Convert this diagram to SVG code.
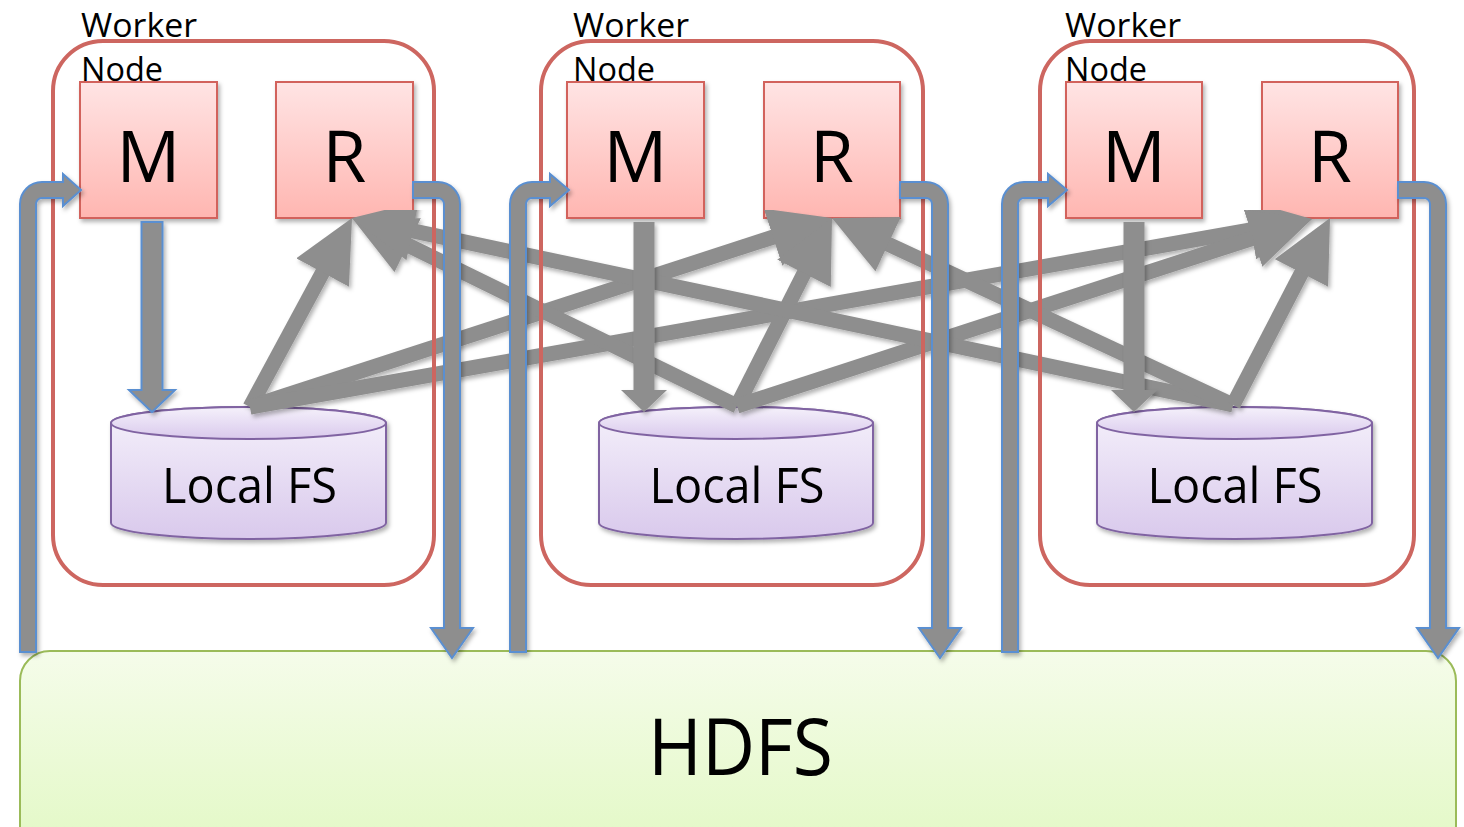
<svg xmlns="http://www.w3.org/2000/svg" width="1464" height="827" viewBox="0 0 1464 827">
  <defs>
    <linearGradient id="gBox" x1="0" y1="0" x2="0" y2="1">
      <stop offset="0" stop-color="#ffe4e4"/>
      <stop offset="1" stop-color="#ffb6b1"/>
    </linearGradient>
    <linearGradient id="gCyl" x1="0" y1="0" x2="0" y2="1">
      <stop offset="0" stop-color="#f5f1fb"/>
      <stop offset="1" stop-color="#d9c9ec"/>
    </linearGradient>
    <linearGradient id="gHdfs" x1="0" y1="0" x2="0" y2="1">
      <stop offset="0" stop-color="#f5fcea"/>
      <stop offset="1" stop-color="#e0f8c0"/>
    </linearGradient>
    <filter id="shadow" x="-10%" y="-10%" width="130%" height="130%">
      <feDropShadow dx="2" dy="3" stdDeviation="2" flood-color="#000" flood-opacity="0.3"/>
    </filter>
    <marker id="head" markerUnits="userSpaceOnUse" markerWidth="62" markerHeight="60" refX="7" refY="30" orient="auto" viewBox="0 0 62 60">
      <path d="M0,0 L62,30 L0,60 Z" fill="#8e8e8e"/>
    </marker>
    <style>
      .worker { fill: none; stroke: #cd6660; stroke-width: 4; }
      .box { fill: url(#gBox); stroke: #d2625c; stroke-width: 2; filter: url(#shadow); }
      .cyl { fill: url(#gCyl); stroke: #8064a2; stroke-width: 2; }
      .lbl { font-family: "Open Sans", "Liberation Sans", sans-serif; fill: #000; }
      .shuffle line { stroke: #8e8e8e; stroke-width: 15; marker-end: url(#head); }
      .flow { fill: #8e8e8e; stroke: #5a8fd1; stroke-width: 2; stroke-linejoin: miter; }
      .plain { fill: #8e8e8e; stroke: none; }
    </style>
  </defs>

  <rect width="1464" height="827" fill="#ffffff"/>

  <!-- HDFS -->
  <g id="hdfs">
    <rect x="20" y="651" width="1436" height="230" rx="30" fill="url(#gHdfs)" stroke="#9bbb59" stroke-width="2"/>
    <text class="lbl" x="740.5" y="775" font-size="78" text-anchor="middle" textLength="185" lengthAdjust="spacingAndGlyphs">HDFS</text>
  </g>

  <!-- Local file systems -->
  <g id="lfs1" filter="url(#shadow)">
    <path class="cyl" d="M111,423 A137.5,16 0 0 1 386,423 L386,523 A137.5,16 0 0 1 111,523 Z"/>
    <ellipse class="cyl" cx="248.5" cy="423" rx="137.5" ry="16"/>
    <text class="lbl" x="249.5" y="503" font-size="49" text-anchor="middle" textLength="175" lengthAdjust="spacingAndGlyphs">Local FS</text>
  </g>
  <g id="lfs2" filter="url(#shadow)">
    <path class="cyl" d="M599,423 A137,16 0 0 1 873,423 L873,523 A137,16 0 0 1 599,523 Z"/>
    <ellipse class="cyl" cx="736" cy="423" rx="137" ry="16"/>
    <text class="lbl" x="737" y="503" font-size="49" text-anchor="middle" textLength="175" lengthAdjust="spacingAndGlyphs">Local FS</text>
  </g>
  <g id="lfs3" filter="url(#shadow)">
    <path class="cyl" d="M1097,423 A137.5,16 0 0 1 1372,423 L1372,523 A137.5,16 0 0 1 1097,523 Z"/>
    <ellipse class="cyl" cx="1234.5" cy="423" rx="137.5" ry="16"/>
    <text class="lbl" x="1235" y="503" font-size="49" text-anchor="middle" textLength="175" lengthAdjust="spacingAndGlyphs">Local FS</text>
  </g>

  <!-- Map and reduce tasks -->
  <g id="m1"><rect class="box" x="80" y="82" width="137" height="136"/><text class="lbl" x="148.5" y="182" font-size="71" text-anchor="middle">M</text></g>
  <g id="r1"><rect class="box" x="276" y="82" width="137" height="136"/><text class="lbl" x="344.5" y="182" font-size="71" text-anchor="middle">R</text></g>
  <g id="m2"><rect class="box" x="567" y="82" width="137" height="136"/><text class="lbl" x="635.5" y="182" font-size="71" text-anchor="middle">M</text></g>
  <g id="r2"><rect class="box" x="764" y="82" width="136" height="136"/><text class="lbl" x="832" y="182" font-size="71" text-anchor="middle">R</text></g>
  <g id="m3"><rect class="box" x="1066" y="82" width="136" height="136"/><text class="lbl" x="1134" y="182" font-size="71" text-anchor="middle">M</text></g>
  <g id="r3"><rect class="box" x="1262" y="82" width="136" height="136"/><text class="lbl" x="1330" y="182" font-size="71" text-anchor="middle">R</text></g>

  <!-- Connectors -->
  <g id="connectors">
    <!-- shuffle: every local FS feeds every reducer -->
    <g class="shuffle" filter="url(#shadow)">
      <line x1="250" y1="407" x2="325.9" y2="266.4"/>
      <line x1="250" y1="407" x2="779.7" y2="235.0"/>
      <line x1="250" y1="407" x2="1257.8" y2="228.6"/>
      <line x1="737" y1="406" x2="401.4" y2="242.1"/>
      <line x1="737" y1="406" x2="807.2" y2="267.1"/>
      <line x1="737" y1="406" x2="1259.7" y2="236.0"/>
      <line x1="1233" y1="405" x2="405.8" y2="229.4"/>
      <line x1="1233" y1="405" x2="881.8" y2="241.2"/>
      <line x1="1233" y1="405" x2="1304.7" y2="266.8"/>
    </g>
  </g>

  <!-- Worker node frames -->
  <g id="worker1">
    <rect class="worker" x="53" y="41" width="381" height="544" rx="50"/>
    <text class="lbl" x="81" y="37" font-size="32" textLength="116" lengthAdjust="spacingAndGlyphs">Worker</text>
    <text class="lbl" x="81" y="81" font-size="32" textLength="82" lengthAdjust="spacingAndGlyphs">Node</text>
  </g>
  <g id="worker2">
    <rect class="worker" x="541" y="41" width="382" height="544" rx="50"/>
    <text class="lbl" x="573" y="37" font-size="32" textLength="116" lengthAdjust="spacingAndGlyphs">Worker</text>
    <text class="lbl" x="573" y="81" font-size="32" textLength="82" lengthAdjust="spacingAndGlyphs">Node</text>
  </g>
  <g id="worker3">
    <rect class="worker" x="1040" y="41" width="374" height="544" rx="50"/>
    <text class="lbl" x="1065" y="37" font-size="32" textLength="116" lengthAdjust="spacingAndGlyphs">Worker</text>
    <text class="lbl" x="1065" y="81" font-size="32" textLength="82" lengthAdjust="spacingAndGlyphs">Node</text>
  </g>

  <g id="flows" filter="url(#shadow)">
    <!-- map output spilled to local FS -->
    <path class="flow" d="M141.5,222 L162.5,222 L162.5,390 L175,390 L152,412 L129,390 L141.5,390 Z"/>
    <path class="plain" d="M633.5,222 L654.5,222 L654.5,390 L667,390 L644,412 L621,390 L633.5,390 Z"/>
    <path class="plain" d="M1123.5,222 L1144.5,222 L1144.5,390 L1157,390 L1134,412 L1111,390 L1123.5,390 Z"/>

    <!-- HDFS input to mappers -->
    <path class="flow" d="M20,652 L20,204 A22,22 0 0 1 42,182 L63,182 L63,174 L81,190 L63,206 L63,198 L42,198 A6,6 0 0 0 36,204 L36,652 Z"/>
    <path class="flow" d="M510,652 L510,204 A22,22 0 0 1 532,182 L550,182 L550,174 L569,190 L550,206 L550,198 L532,198 A6,6 0 0 0 526,204 L526,652 Z"/>
    <path class="flow" d="M1002,652 L1002,204 A22,22 0 0 1 1024,182 L1048,182 L1048,174 L1067,190 L1048,206 L1048,198 L1024,198 A6,6 0 0 0 1018,204 L1018,652 Z"/>

    <!-- reducer output to HDFS -->
    <path class="flow" d="M413,182 L438,182 A22,22 0 0 1 460,204 L460,628 L473,628 L452,658 L431,628 L444,628 L444,204 A6,6 0 0 0 438,198 L413,198 Z"/>
    <path class="flow" d="M900,182 L926,182 A22,22 0 0 1 948,204 L948,628 L961,628 L940,658 L919,628 L932,628 L932,204 A6,6 0 0 0 926,198 L900,198 Z"/>
    <path class="flow" d="M1398,182 L1424,182 A22,22 0 0 1 1446,204 L1446,628 L1459,628 L1438,658 L1417,628 L1430,628 L1430,204 A6,6 0 0 0 1424,198 L1398,198 Z"/>
  </g>
</svg>
